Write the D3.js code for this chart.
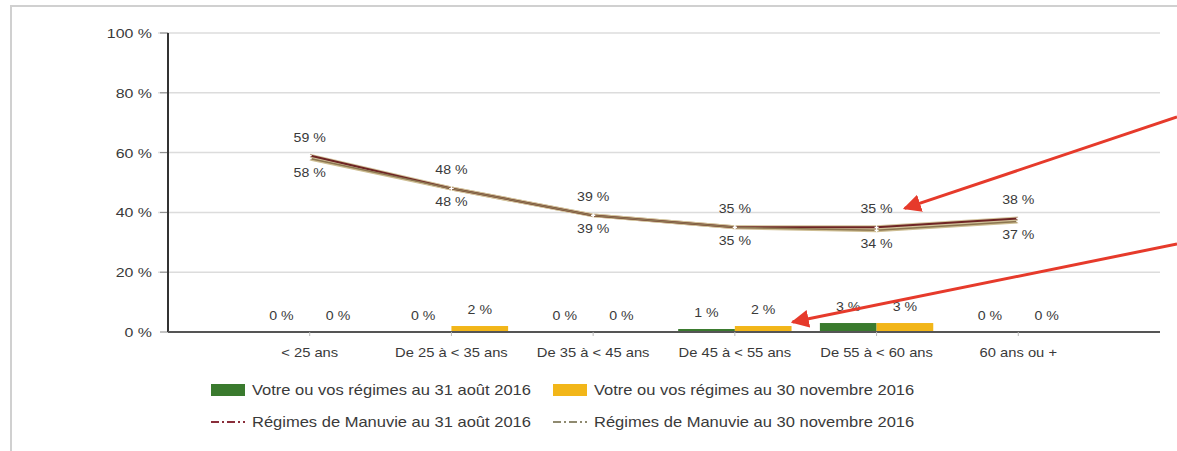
<!DOCTYPE html>
<html>
<head>
<meta charset="utf-8">
<script src="https://cdn.jsdelivr.net/npm/d3@7"></script>
<style>
  body { margin: 0; background: #fff; }
  svg text { font-family: "Liberation Sans", Arial, sans-serif; fill: #3a3a3a; }
</style>
</head>
<body>
<svg width="1177" height="451"></svg>
<script>
const categories = ["< 25 ans", "De 25 à < 35 ans", "De 35 à < 45 ans", "De 45 à < 55 ans", "De 55 à < 60 ans", "60 ans ou +"]
const yTicks = [0, 20, 40, 60, 80, 100]

// bars
const votreAout = [0, 0, 0, 1, 3, 0]
const votreNov = [0, 2, 0, 2, 3, 0]
// lines
const manuvieAout = [59, 48, 39, 35, 35, 38]
const manuvieNov = [58, 48, 39, 35, 34, 37]

const svg = d3.select("svg")
const SX = 1.18 // the source picture is a bit stretched sideways

// put a text at (px,py) with the sideways stretch
const place = (sel, px, py) => sel.attr("transform", (d, i) => `translate(${px(d, i)},${py(d, i)}) scale(${SX},1)`)

// frame
svg.append("path")
    .attr("d", "M11,451 L11,6 L1177,6")
    .attr("fill", "none")
    .attr("stroke", "#d0d0d0")
    .attr("stroke-width", 2)

const plotL = 168, plotR = 1160, plotT = 33, plotB = 332

const x = d3.scalePoint().domain(categories).range([plotL, plotR]).padding(1)
const y = d3.scaleLinear().domain([0, 100]).range([plotB, plotT])
const barW = x.step() * 0.4

// grid
svg.append("g")
    .selectAll("line")
    .data(yTicks.filter(d => d > 0))
    .join("line")
    .attr("x1", plotL - 10).attr("x2", plotR)
    .attr("y1", d => y(d)).attr("y2", d => y(d))
    .attr("stroke", "#dcdcdc")
    .attr("stroke-width", 1.5)

// y labels
svg.append("g")
    .selectAll("text")
    .data(yTicks)
    .join("text")
    .call(place, () => 152, d => y(d) + 5)
    .attr("text-anchor", "end")
    .attr("font-size", 13.5)
    .text(d => d + " %")

svg.append("g")
    .selectAll("line")
    .data(yTicks)
    .join("line")
    .attr("x1", plotL - 8).attr("x2", plotL)
    .attr("y1", d => y(d)).attr("y2", d => y(d))
    .attr("stroke", "#888")

// bars
const bars = [
    { values: votreAout, color: "#3a7a2e", off: -barW },
    { values: votreNov, color: "#f2b619", off: 0 }
]
bars.forEach(s => {
    svg.append("g")
        .selectAll("rect")
        .data(categories)
        .join("rect")
        .attr("x", d => x(d) + s.off)
        .attr("width", barW)
        .attr("y", (d, i) => y(s.values[i]))
        .attr("height", (d, i) => plotB - y(s.values[i]))
        .attr("fill", s.color)
    svg.append("g")
        .selectAll("text")
        .data(categories)
        .join("text")
        .call(place, d => x(d) + s.off + barW / 2, (d, i) => y(s.values[i]) - 12)
        .attr("text-anchor", "middle")
        .attr("font-size", 12)
        .text((d, i) => s.values[i] + " %")
})

// axes
svg.append("line")
    .attr("x1", plotL).attr("x2", plotL)
    .attr("y1", plotT).attr("y2", plotB)
    .attr("stroke", "#333").attr("stroke-width", 2)
svg.append("line")
    .attr("x1", plotL).attr("x2", plotR)
    .attr("y1", plotB).attr("y2", plotB)
    .attr("stroke", "#555").attr("stroke-width", 2)
svg.append("g")
    .selectAll("line")
    .data(categories)
    .join("line")
    .attr("x1", d => x(d)).attr("x2", d => x(d))
    .attr("y1", plotB).attr("y2", plotB + 4)
    .attr("stroke", "#bbb")
svg.append("g")
    .selectAll("text")
    .data(categories)
    .join("text")
    .call(place, d => x(d), () => plotB + 25)
    .attr("text-anchor", "middle")
    .attr("font-size", 12.5)
    .text(d => d)

// lines
const line = vals => d3.line()
    .x(d => x(d))
    .y((d, i) => y(vals[i]))(categories)

svg.append("path")
    .attr("d", line(manuvieNov))
    .attr("fill", "none")
    .attr("stroke", "#cdbd92")
    .attr("stroke-width", 4)
svg.append("path")
    .attr("d", line(manuvieAout))
    .attr("fill", "none")
    .attr("stroke", "#d2c39c")
    .attr("stroke-width", 4)
svg.append("path")
    .attr("d", line(manuvieAout))
    .attr("fill", "none")
    .attr("stroke", "#6e2424")
    .attr("stroke-width", 2)
svg.append("path")
    .attr("d", line(manuvieNov))
    .attr("fill", "none")
    .attr("stroke", "#8c7650")
    .attr("stroke-width", 1.5)

;[manuvieAout, manuvieNov].forEach((vals, k) => {
    svg.append("g")
        .selectAll("path")
        .data(categories)
        .join("path")
        .attr("transform", (d, i) => `translate(${x(d)},${y(vals[i])})`)
        .attr("d", "M-2,0H2M0,-2V2")
        .attr("stroke", "#fff")
        .attr("stroke-width", 1.2)
    svg.append("g")
        .selectAll("text")
        .data(categories)
        .join("text")
        .call(place, d => x(d), (d, i) => y(vals[i]) + (k == 0 ? -14 : 18))
        .attr("text-anchor", "middle")
        .attr("font-size", 12)
        .text((d, i) => vals[i] + " %")
})

// legend
const legend = [
    { label: "Votre ou vos régimes au 31 août 2016", color: "#3a7a2e", type: "rect", lx: 211, ly: 390 },
    { label: "Votre ou vos régimes au 30 novembre 2016", color: "#f2b619", type: "rect", lx: 553, ly: 390 },
    { label: "Régimes de Manuvie au 31 août 2016", color: "#8a2e3a", type: "line", lx: 211, ly: 422 },
    { label: "Régimes de Manuvie au 30 novembre 2016", color: "#8f8a70", type: "line", lx: 553, ly: 422 }
]
legend.forEach(l => {
    if (l.type == "rect") {
        svg.append("rect")
            .attr("x", l.lx).attr("y", l.ly - 6)
            .attr("width", 34).attr("height", 12)
            .attr("fill", l.color)
    } else {
        svg.append("line")
            .attr("x1", l.lx).attr("x2", l.lx + 34)
            .attr("y1", l.ly).attr("y2", l.ly)
            .attr("stroke", l.color).attr("stroke-width", 2)
            .attr("stroke-dasharray", "8,3,2,3")
    }
    svg.append("text")
        .attr("transform", `translate(${l.lx + 41},${l.ly + 5}) scale(${SX},1)`)
        .attr("font-size", 14)
        .text(l.label)
})

// red annotation arrows
svg.append("defs").append("marker")
    .attr("id", "head")
    .attr("viewBox", "0 0 10 10")
    .attr("refX", 9).attr("refY", 5)
    .attr("markerWidth", 6).attr("markerHeight", 6)
    .attr("orient", "auto")
    .append("path")
    .attr("d", "M0,0L10,5L0,10z")
    .attr("fill", "#e63a2b")

const arrows = [
    { x1: 1177, y1: 117, x2: x(categories[4]) + 28, y2: y(40) - 4 },
    { x1: 1177, y1: 244, x2: x(categories[3]) + barW + 1, y2: y(votreNov[3]) - 4 }
]
svg.append("g")
    .selectAll("line")
    .data(arrows)
    .join("line")
    .attr("x1", d => d.x1).attr("y1", d => d.y1)
    .attr("x2", d => d.x2).attr("y2", d => d.y2)
    .attr("stroke", "#e63a2b")
    .attr("stroke-width", 3)
    .attr("marker-end", "url(#head)")
</script>
</body>
</html>
